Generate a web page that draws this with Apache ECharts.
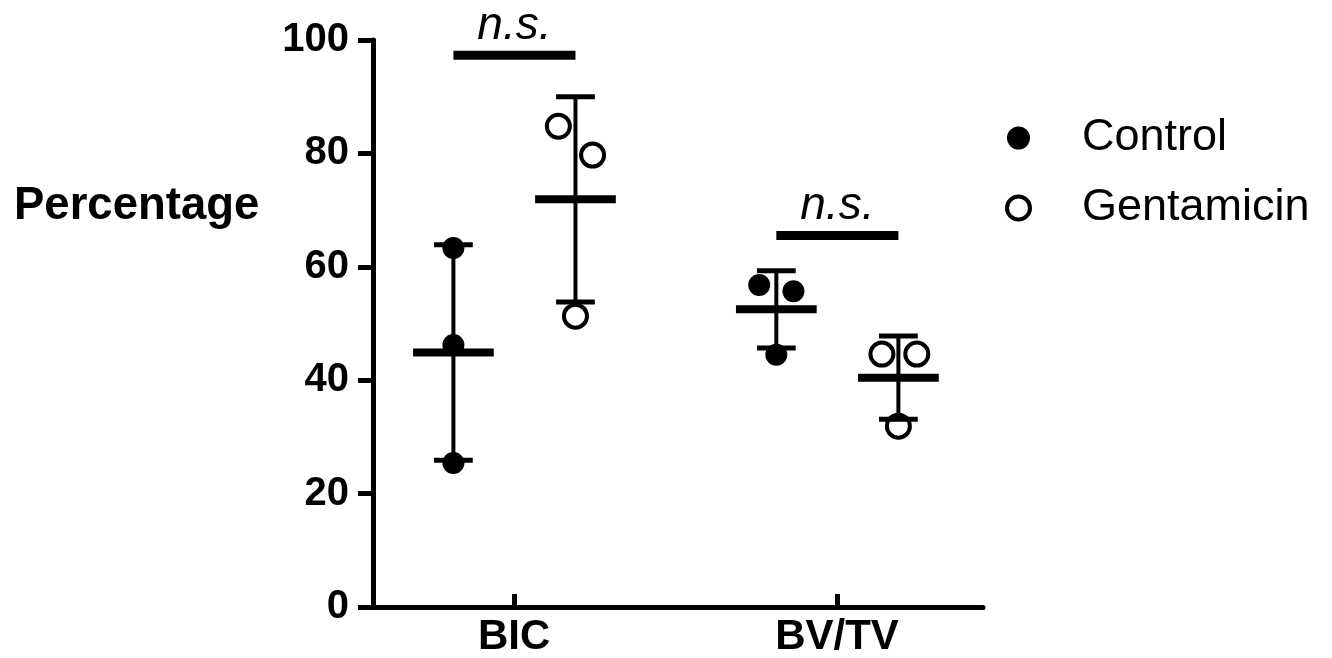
<!DOCTYPE html>
<html>
<head>
<meta charset="utf-8">
<script src="https://cdn.jsdelivr.net/npm/echarts@6/dist/echarts.min.js"></script>
<style>
html,body{margin:0;padding:0;background:#fff;}
#chart{width:1332px;height:658px;}
</style>
</head>
<body>
<div id="chart"></div>
<script>
// ---- data ----
var categories = ['BIC', 'BV/TV'];
var seriesNames = ['Control', 'Gentamicin'];
var controlValues = [[63.3, 46.2, 25.4], [56.8, 55.7, 44.5]];
var gentamicinValues = [[84.8, 79.7, 51.3], [44.6, 44.6, 31.9]];
var controlJitter = [[0, 0, 0], [-0.053, 0.053, 0]];
var gentamicinJitter = [[-0.053, 0.053, 0], [-0.051, 0.057, 0]];
var controlMean = [44.9, 52.5];
var controlSD = [19.0, 6.8];
var gentamicinMean = [71.9, 40.45];
var gentamicinSD = [18.1, 7.35];
var sigY = [97.3, 65.5];
var sigLabel = ['n.s.', 'n.s.'];
var yTicks = [0, 20, 40, 60, 80, 100];

// ---- layout helpers ----
var groupOffset = [-0.188, 0.19];
var FONT = 'Liberation Sans, Arial, Helvetica, sans-serif';

function scatterData(values, jitter, gi) {
  var out = [];
  values.forEach(function (arr, ci) {
    arr.forEach(function (v, k) {
      out.push([ci + 1 + groupOffset[gi] + jitter[ci][k], v]);
    });
  });
  return out;
}
function barData(mean, sd, gi) {
  return mean.map(function (m, ci) { return [ci + 1 + groupOffset[gi], m, sd[ci]]; });
}
var sigData = sigY.map(function (y, ci) {
  return [ci + 1 + groupOffset[0], ci + 1 + groupOffset[1], y, sigLabel[ci]];
});

function renderErrorBar(params, api) {
  var x = api.value(0), m = api.value(1), s = api.value(2);
  var c = api.coord([x, m]);
  var t = api.coord([x, m + s]);
  var b = api.coord([x, m - s]);
  var halfMean = api.size([0.125, 0])[0];
  var halfCap = api.size([0.06, 0])[0];
  var st = function (w) { return { stroke: '#000', lineWidth: w, lineCap: 'butt' }; };
  return {
    type: 'group',
    children: [
      { type: 'line', shape: { x1: t[0], y1: t[1], x2: b[0], y2: b[1] }, style: st(4) },
      { type: 'line', shape: { x1: t[0] - halfCap, y1: t[1], x2: t[0] + halfCap, y2: t[1] }, style: st(5) },
      { type: 'line', shape: { x1: b[0] - halfCap, y1: b[1], x2: b[0] + halfCap, y2: b[1] }, style: st(5) },
      { type: 'line', shape: { x1: c[0] - halfMean, y1: c[1], x2: c[0] + halfMean, y2: c[1] }, style: st(8) }
    ]
  };
}
function renderSig(params, api) {
  var p1 = api.coord([api.value(0), api.value(2)]);
  var p2 = api.coord([api.value(1), api.value(2)]);
  return {
    type: 'group',
    children: [
      { type: 'line', shape: { x1: p1[0], y1: p1[1], x2: p2[0], y2: p2[1] },
        style: { stroke: '#000', lineWidth: 9, lineCap: 'butt' } },
      { type: 'text', x: (p1[0] + p2[0]) / 2, y: p1[1] - 6,
        style: { text: sigLabel[params.dataIndex], fill: '#000', font: 'italic 46px ' + FONT,
          textAlign: 'center', textVerticalAlign: 'bottom' } }
    ]
  };
}

var chart = echarts.init(document.getElementById('chart'));
chart.setOption({
  animation: false,
  backgroundColor: '#fff',
  title: {
    text: 'Percentage', left: 9, top: 178,
    textStyle: { fontFamily: FONT, fontSize: 45.5, fontWeight: 'bold', color: '#000' }
  },
  legend: {
    orient: 'vertical', left: 1000, top: 108,
    itemWidth: 23, itemHeight: 23, itemGap: 20,
    textStyle: { fontFamily: FONT, fontSize: 45, color: '#000', lineHeight: 50, padding: [0, 0, 0, 47] },
    data: [
      { name: seriesNames[0], icon: 'circle', itemStyle: { color: '#000', borderWidth: 0 } },
      { name: seriesNames[1], icon: 'circle', itemStyle: { color: '#fff', borderColor: '#000', borderWidth: 4 } }
    ]
  },
  grid: { left: 373, right: 349, top: 40, bottom: 51 },
  xAxis: {
    type: 'value', min: 0.563, max: 2.452,
    splitLine: { show: false },
    axisLine: { show: true, lineStyle: { color: '#000', width: 5 } },
    axisTick: { show: true, inside: true, length: 13, customValues: [1, 2], lineStyle: { color: '#000', width: 5 } },
    axisLabel: {
      customValues: [1, 2], margin: 9,
      formatter: function (v) { return categories[Math.round(v) - 1] || ''; },
      fontFamily: FONT, fontSize: 42, fontWeight: 'bold', color: '#000'
    }
  },
  yAxis: {
    type: 'value', min: 0, max: 100, interval: 20,
    splitLine: { show: false },
    axisLine: { show: true, lineStyle: { color: '#000', width: 5 } },
    axisTick: { show: true, length: 15, lineStyle: { color: '#000', width: 5 } },
    axisLabel: {
      margin: 24, fontFamily: FONT, fontSize: 40, fontWeight: 'bold', color: '#000',
      formatter: function (v) { return yTicks.indexOf(v) >= 0 ? String(v) : ''; }
    }
  },
  series: [
    {
      name: seriesNames[0], type: 'scatter', symbol: 'circle', symbolSize: 22, z: 2,
      itemStyle: { color: '#000', opacity: 1 },
      data: scatterData(controlValues, controlJitter, 0)
    },
    {
      name: seriesNames[1], type: 'scatter', symbol: 'circle', symbolSize: 23, z: 2,
      itemStyle: { color: '#fff', borderColor: '#000', borderWidth: 4, opacity: 1 },
      data: scatterData(gentamicinValues, gentamicinJitter, 1)
    },
    { type: 'custom', z: 3, renderItem: renderErrorBar, data: barData(controlMean, controlSD, 0), silent: true },
    { type: 'custom', z: 3, renderItem: renderErrorBar, data: barData(gentamicinMean, gentamicinSD, 1), silent: true },
    { type: 'custom', z: 3, renderItem: renderSig, data: sigData, silent: true, clip: false }
  ]
});
</script>
</body>
</html>
